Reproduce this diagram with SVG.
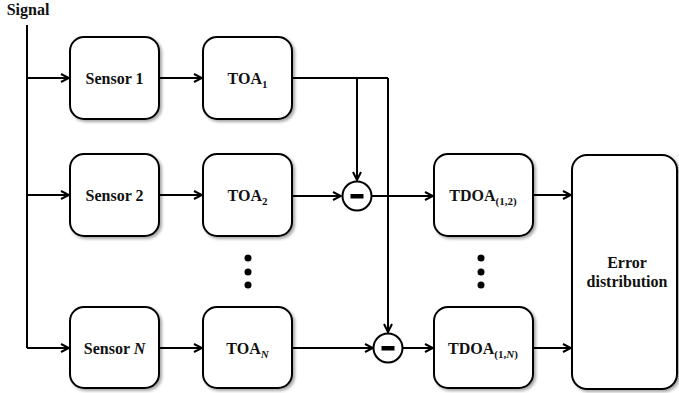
<svg xmlns="http://www.w3.org/2000/svg" width="679" height="393" viewBox="0 0 679 393">
<style>
.box{fill:#fff;stroke:#000;stroke-width:2;filter:url(#sh)}
.t{font-family:'Times New Roman','Liberation Serif','DejaVu Serif',serif;font-weight:bold;font-size:16px;fill:#111;text-anchor:middle}
.sub{font-size:11px}
.ln{fill:none;stroke:#000;stroke-width:2}
.ar{fill:none;stroke:#000;stroke-width:2;marker-end:url(#ah)}
.dot{fill:#000}
</style>
<defs>
<filter id="sh" x="-10%" y="-10%" width="130%" height="130%">
<feDropShadow dx="2" dy="2" stdDeviation="1.5" flood-color="#000" flood-opacity="0.35"/>
</filter>
<marker id="ah" viewBox="0 0 10 10" refX="9" refY="5" markerWidth="10" markerHeight="10" markerUnits="userSpaceOnUse" orient="auto">
<path d="M1,1 L9,5 L1,9" fill="none" stroke="#000" stroke-width="2"/>
</marker>
</defs>

<text class="t" x="28" y="15">Signal</text>

<g id="connectors">
<path class="ln" d="M27,25 V348"/>
<path class="ar" d="M27,78 H69"/>
<path class="ar" d="M27,195 H69"/>
<path class="ar" d="M27,348 H69"/>
<path class="ar" d="M159,78 H202"/>
<path class="ar" d="M159,195 H202"/>
<path class="ar" d="M159,348 H202"/>
<path class="ln" d="M292,78 H388"/>
<path class="ar" d="M357,78 V180"/>
<path class="ar" d="M388,78 V332"/>
<path class="ar" d="M292,196 H341"/>
<path class="ar" d="M372,196 H433"/>
<path class="ar" d="M292,348 H373"/>
<path class="ar" d="M403,348 H433"/>
<path class="ar" d="M533,195 H571"/>
<path class="ar" d="M533,348 H571"/>
</g>

<g id="sensor1"><rect class="box" x="70" y="37" width="89" height="82" rx="14"/><text class="t" x="114.5" y="84">Sensor 1</text></g>
<g id="sensor2"><rect class="box" x="70" y="154" width="89" height="82" rx="14"/><text class="t" x="114.5" y="201">Sensor 2</text></g>
<g id="sensorN"><rect class="box" x="70" y="307" width="89" height="81" rx="14"/><text class="t" x="114.5" y="354">Sensor <tspan font-style="italic">N</tspan></text></g>

<g id="toa1"><rect class="box" x="203" y="37" width="89" height="82" rx="14"/><text class="t" x="247.5" y="84">TOA<tspan class="sub" dy="4">1</tspan></text></g>
<g id="toa2"><rect class="box" x="203" y="154" width="89" height="82" rx="14"/><text class="t" x="247.5" y="201">TOA<tspan class="sub" dy="4">2</tspan></text></g>
<g id="toaN"><rect class="box" x="203" y="307" width="89" height="81" rx="14"/><text class="t" x="247.5" y="354">TOA<tspan class="sub" dy="4" font-style="italic">N</tspan></text></g>

<g id="dots1"><circle class="dot" cx="248" cy="258" r="3.5"/><circle class="dot" cx="248" cy="272" r="3.5"/><circle class="dot" cx="248" cy="285" r="3.5"/></g>
<g id="dots2"><circle class="dot" cx="481" cy="258" r="3.5"/><circle class="dot" cx="481" cy="272" r="3.5"/><circle class="dot" cx="481" cy="285" r="3.5"/></g>

<g id="minus1"><circle cx="357" cy="196" r="14.5" fill="#fff" stroke="#000" stroke-width="2"/><rect x="350.5" y="194" width="13" height="4.5" fill="#000"/></g>
<g id="minus2"><circle cx="388" cy="348" r="14.5" fill="#fff" stroke="#000" stroke-width="2"/><rect x="381.5" y="346" width="13" height="4.5" fill="#000"/></g>

<g id="tdoa12"><rect class="box" x="434" y="154" width="99" height="82" rx="14"/><text class="t" x="483" y="201">TDOA<tspan class="sub" font-size="10" dy="4">(1,2)</tspan></text></g>
<g id="tdoa1N"><rect class="box" x="434" y="307" width="99" height="81" rx="14"/><text class="t" x="483" y="354">TDOA<tspan class="sub" font-size="10" dy="4">(1,<tspan font-style="italic">N</tspan>)</tspan></text></g>

<g id="error"><rect class="box" x="572" y="155" width="105" height="234" rx="15"/><text class="t" x="627" y="268">Error</text><text class="t" x="627" y="287">distribution</text></g>
</svg>
